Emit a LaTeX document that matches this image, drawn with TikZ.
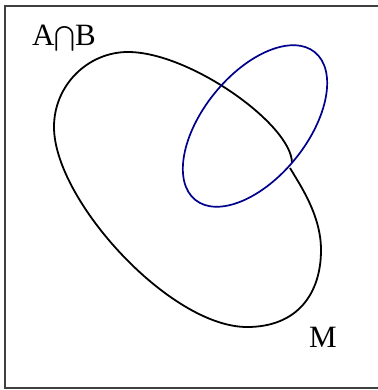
\documentclass[tikz,border=0pt]{standalone}
\usepackage{exscale}
\usepackage{fontspec}
\setmainfont{Liberation Serif}
\usetikzlibrary{positioning}
\definecolor{setblue}{RGB}{0,0,140}
\tikzset{
  frm/.style={draw=black!75, line width=1.2pt},
  setM/.style={draw=black, line width=1.8pt},
  setB/.style={draw=setblue, line width=1.7pt},
  lab/.style={font=\fontsize{31}{35}\selectfont, inner sep=0pt},
}
\begin{document}
\begin{tikzpicture}[x=1pt,y=-1pt]
\useasboundingbox (0,0) rectangle (377,390);
\draw[frm] (5,6) rectangle (385,388);
% set M, one open curve with a small break at the right
\coordinate (k2) at (290,168);
\coordinate (r) at (321,250);
\coordinate (bt) at (247,327);
\coordinate (l) at (54,127);
\coordinate (t) at (128,52);
\coordinate (k1) at (292,163);
\draw[setM] (k2) .. controls (300,185) and (321,215) .. (r)
  .. controls (321,293) and (298,327) .. (bt)
  .. controls (170,327) and (54,200) .. (l)
  .. controls (54,85) and (88,52) .. (t)
  .. controls (190,52) and (292,125) .. (k1);
% blue set
\draw[setB] (255,126) ellipse[x radius=95, y radius=52, rotate=51];
\node[lab] (ab) at (64,38) {A$\bigcap$B};
\node[lab] (m) at (323,337) {M};
\end{tikzpicture}
\end{document}
